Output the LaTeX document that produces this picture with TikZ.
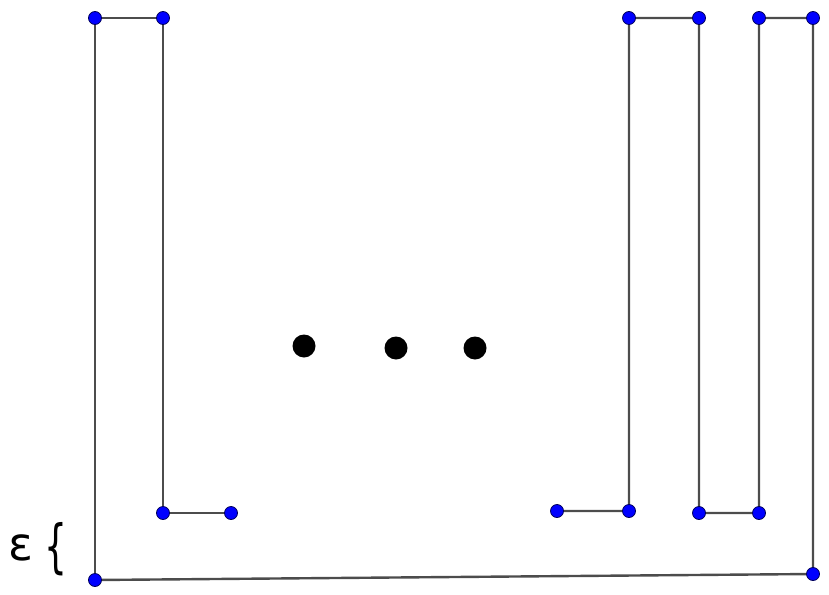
\documentclass[tikz,border=0pt]{standalone}
\usepackage{fontspec}
\usepackage{graphicx}
\setmainfont{DejaVu Sans}
\usetikzlibrary{backgrounds}
\begin{document}
\begin{tikzpicture}[x=1pt,y=-1pt,
  vtx/.style={circle,fill=blue,draw=blue!35!black,line width=0.8pt,inner sep=0pt,minimum size=13pt},
  bigdot/.style={circle,fill=black,inner sep=0pt,minimum size=23pt},
  seg/.style={draw=black!70,line width=2.4pt}]
\useasboundingbox (0,0) rectangle (829,594);
% vertices
\node[vtx] (a1) at (95,18) {};
\node[vtx] (a2) at (163,18) {};
\node[vtx] (a3) at (163,513) {};
\node[vtx] (a4) at (231,513) {};
\node[vtx] (b0) at (95,580) {};
\node[vtx] (b1) at (813,574) {};
\node[vtx] (c1) at (557,511) {};
\node[vtx] (c2) at (629,511) {};
\node[vtx] (c3) at (629,18) {};
\node[vtx] (c4) at (699,18) {};
\node[vtx] (c5) at (699,513) {};
\node[vtx] (c6) at (759,513) {};
\node[vtx] (c7) at (759,18) {};
\node[vtx] (c8) at (813,18) {};
% edges
\begin{pgfonlayer}{background}
\draw[seg] (b0.center) -- (a1.center) -- (a2.center) -- (a3.center) -- (a4.center);
\draw[seg] (b0.center) -- (b1.center) -- (c8.center) -- (c7.center) -- (c6.center) -- (c5.center) -- (c4.center) -- (c3.center) -- (c2.center) -- (c1.center);
\end{pgfonlayer}
% dots
\node[bigdot] (d1) at (304,346) {};
\node[bigdot] (d2) at (396,348) {};
\node[bigdot] (d3) at (475,348) {};
% epsilon label
\node[font=\fontsize{46}{50}\selectfont,inner sep=0pt] (eps) at (21,548) {ε};
\node[font=\fontsize{40}{50}\selectfont,inner sep=0pt] (br) at (56,549) {\scalebox{0.9}[1.45]{\{}};
\end{tikzpicture}
\end{document}
